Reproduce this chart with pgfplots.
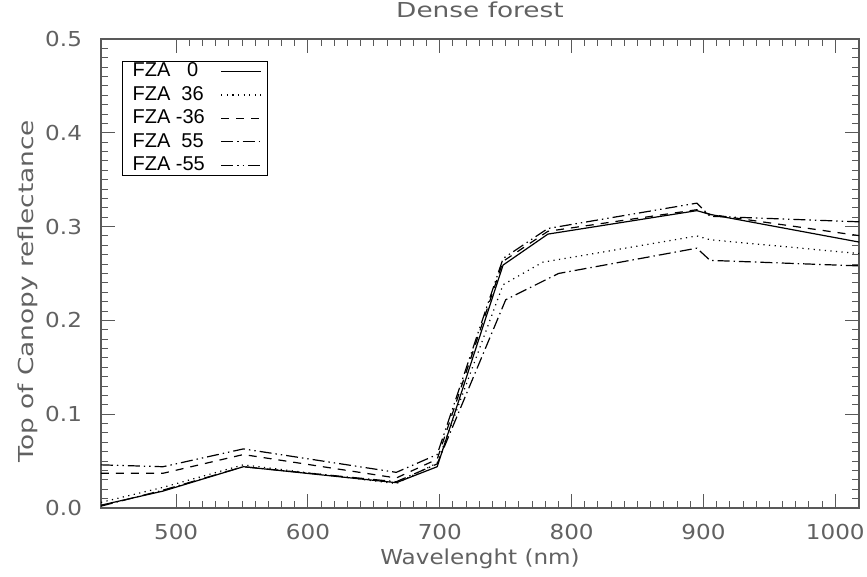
\documentclass[border=0pt]{standalone}
\usepackage{pgfplots}
\pgfplotsset{compat=1.18}
\usepackage{fontspec}
\setmainfont{Liberation Sans}
\newfontfamily\idl{DejaVu Sans}[FakeStretch=1.12]
\newfontfamily\idlw{DejaVu Sans}[FakeStretch=1.28]
\definecolor{txt}{gray}{0.38}
\newcommand\idlf{\idl\fontsize{10.3}{12}\selectfont}
\begin{document}
\begin{tikzpicture}
\path[use as bounding box] (-50.5pt,-34.5pt) rectangle (383pt,254pt);
\begin{axis}[
  at={(0,0)}, anchor=south west,
  scale only axis, width=379pt, height=234.5pt,
  xmin=443, xmax=1018, ymin=0, ymax=0.5,
  xtick={500,600,700,800,900,1000},
  ytick={0,0.1,0.2,0.3,0.4,0.5},
  minor x tick num=9, minor y tick num=9,
  tick align=inside,
  major tick length=7pt, minor tick length=3.5pt,
  tick style={black!65, line width=0.5pt},
  axis line style={black!65, line width=0.6pt},
  /pgf/number format/assume math mode=true,
  yticklabel style={/pgf/number format/fixed, /pgf/number format/fixed zerofill, /pgf/number format/precision=1},
  xticklabel style={/pgf/number format/fixed, /pgf/number format/set thousands separator={}},
  ticklabel style={font=\idlf, text=txt},
  xticklabel style={anchor=base, yshift=-16pt},
  yticklabel style={anchor=east, xshift=-6pt},
  title={Dense forest},
  title style={font=\idlw\fontsize{10.3}{12}\selectfont, text=txt, at={(0.5,1)}, anchor=base, yshift=4.5pt},
  xlabel={Wavelenght (nm)},
  xlabel style={font=\idlf, text=txt, at={(0.5,0)}, anchor=base, yshift=-28.5pt},
  ylabel={Top of Canopy reflectance},
  ylabel style={font=\idlw\fontsize{10.3}{12}\selectfont, text=txt, at={(-0.0963,0.462)}, anchor=center},
  legend plot pos=right,
  legend cell align=left,
  legend style={at={(0.0277,0.953)}, anchor=north west,
    font=\fontsize{10}{11}\selectfont, draw=black, line width=0.6pt,
    inner xsep=3pt, inner ysep=0pt, row sep=1.7pt,
    nodes={inner ysep=0.2pt, text height=7.4pt, text depth=2.2pt}},
  legend image code/.code={\draw[#1] (0pt,0pt) -- (20pt,0pt);},
]
\addplot[black, line width=0.6pt] coordinates {
(443,0.003) (490,0.018) (551,0.044) (667,0.027) (698,0.044) (748,0.259) (782,0.292) (895,0.317) (905,0.313) (1020,0.283)};
\addlegendentry{\makebox[42pt][l]{FZA\ \ \ 0}}
\addplot[black, line width=0.6pt, dash pattern=on 0.6pt off 2.2pt] coordinates {
(443,0.006) (490,0.022) (551,0.046) (667,0.026) (698,0.048) (748,0.238) (778,0.262) (820,0.272) (895,0.290) (905,0.286) (1020,0.271)};
\addlegendentry{\makebox[42pt][l]{FZA\ \ 36}}
\addplot[black, line width=0.6pt, dash pattern=on 4pt off 3.5pt] coordinates {
(443,0.037) (490,0.037) (551,0.057) (667,0.032) (698,0.052) (748,0.263) (782,0.295) (895,0.318) (905,0.313) (1020,0.290)};
\addlegendentry{\makebox[42pt][l]{FZA -36}}
\addplot[black, line width=0.6pt, dash pattern=on 6pt off 2pt on 0.7pt off 2pt] coordinates {
(443,0.002) (490,0.019) (551,0.044) (667,0.028) (698,0.047) (750,0.222) (790,0.250) (895,0.277) (905,0.264) (1020,0.258)};
\addlegendentry{\makebox[42pt][l]{FZA\ \ 55}}
\addplot[black, line width=0.6pt, dash pattern=on 6pt off 2pt on 0.7pt off 2pt on 0.7pt off 2pt] coordinates {
(443,0.046) (490,0.044) (551,0.063) (667,0.038) (698,0.057) (748,0.266) (782,0.298) (895,0.325) (905,0.311) (1020,0.305)};
\addlegendentry{\makebox[42pt][l]{FZA -55}}
\end{axis}
\end{tikzpicture}
\end{document}
